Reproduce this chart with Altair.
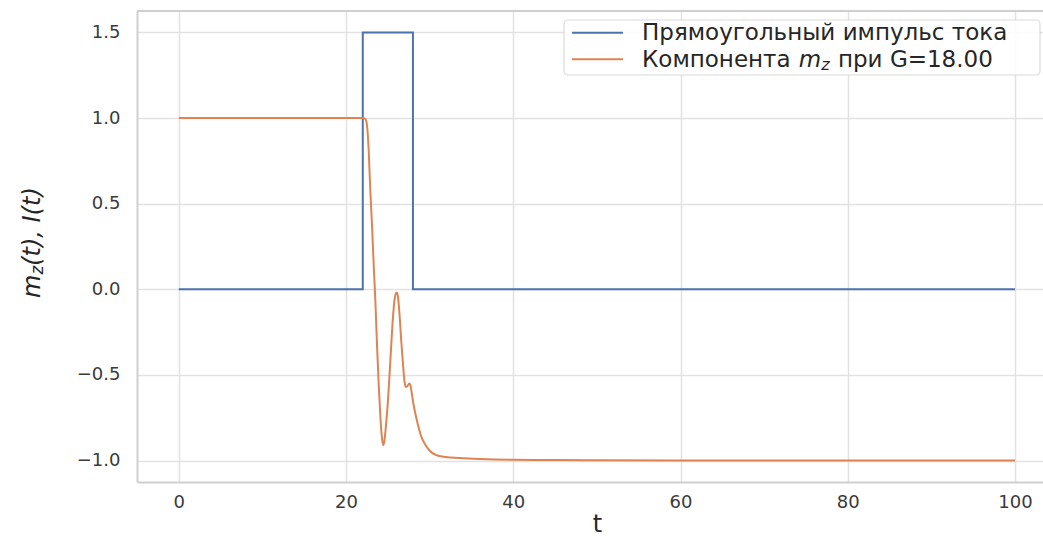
import altair as alt
import pandas as pd

# ---------------- data ----------------
series_names = ["Прямоугольный импульс тока", "Компонента m_z при G=18.00"]
series_colors = ["#4c72b0", "#dd8452"]

t_pulse = [0, 22.0, 22.0, 28.0, 28.0, 100]
i_pulse = [0.0, 0.0, 1.5, 1.5, 0.0, 0.0]

t_mz = [0, 22.0, 22.3, 22.5, 22.7, 22.9, 23.1, 23.3, 23.5, 23.7, 23.9, 24.1,
        24.3, 24.45, 24.6, 24.8, 25.0, 25.2, 25.4, 25.6, 25.8, 26.0, 26.1,
        26.2, 26.4, 26.6, 26.8, 27.0, 27.15, 27.35, 27.55, 27.7, 27.9, 28.1,
        28.4, 28.7, 29.0, 29.4, 29.8, 30.3, 30.8, 31.5, 32.5, 34, 36, 40, 45,
        50, 60, 80, 100]
mz = [1.0, 1.0, 0.995, 0.96, 0.82, 0.58, 0.38, 0.15, -0.06, -0.32, -0.55, -0.74,
      -0.87, -0.91, -0.88, -0.78, -0.66, -0.5, -0.33, -0.17, -0.06, -0.02, -0.02,
      -0.04, -0.15, -0.3, -0.43, -0.54, -0.57, -0.565, -0.55, -0.56, -0.62, -0.68,
      -0.75, -0.81, -0.86, -0.9, -0.93, -0.955, -0.968, -0.976, -0.982, -0.986,
      -0.99, -0.995, -0.997, -0.998, -0.999, -1.0, -1.0]

x_ticks = [0, 20, 40, 60, 80, 100]
y_ticks = [-1.0, -0.5, 0.0, 0.5, 1.0, 1.5]

W, H = 906, 471
PAD_L, PAD_T = 137, 11

df_p = pd.DataFrame({"t": t_pulse, "v": i_pulse, "s": series_names[0]})
df_m = pd.DataFrame({"t": t_mz, "v": mz, "s": series_names[1]})

xs = alt.Scale(domain=[-5, 103.35], nice=False, zero=False)
ys = alt.Scale(domain=[-1.125, 1.625], nice=False, zero=False)
cs = alt.Scale(domain=series_names, range=series_colors)

x_axis = alt.Axis(values=x_ticks, format="d", title="t", titleFontSize=24,
                  titleFontWeight="normal", titleFont="DejaVu Sans",
                  titleColor="#262626", titleX=597 - PAD_L, titleY=49,
                  titleAlign="center", titleBaseline="alphabetic",
                  labelPadding=11)
y_axis = alt.Axis(values=y_ticks, format=".1f", title="", labelPadding=17)

enc_x = alt.X("t:Q", scale=xs, axis=x_axis)
enc_y = alt.Y("v:Q", scale=ys, axis=y_axis)

pulse = alt.Chart(df_p).mark_line(strokeWidth=2, interpolate="linear").encode(
    x=enc_x, y=enc_y, color=alt.Color("s:N", scale=cs, legend=None))
comp = alt.Chart(df_m).mark_line(strokeWidth=2, interpolate="monotone").encode(
    x=alt.X("t:Q", scale=xs), y=alt.Y("v:Q", scale=ys),
    color=alt.Color("s:N", scale=cs, legend=None))

one = alt.Data(values=[{}])
BORDER = "#cfcfcf"

top_border = alt.Chart(one).mark_rule(color=BORDER, strokeWidth=2).encode(
    x=alt.value(0), x2=alt.value(W), y=alt.value(0))

# ---------------- legend (manual, for the italic subscript) ----------------
lx0, lx1, ly0, ly1 = 564 - PAD_L, 1040 - PAD_L, 20 - PAD_T, 75 - PAD_T
legend_box = alt.Chart(one).mark_rect(fill="white", stroke="#d8d8d8", strokeWidth=1.2,
                                      cornerRadius=4, opacity=0.9).encode(
    x=alt.value(lx0), x2=alt.value(lx1), y=alt.value(ly0), y2=alt.value(ly1))
leg_line1 = alt.Chart(one).mark_rule(color=series_colors[0], strokeWidth=2).encode(
    x=alt.value(572 - PAD_L), x2=alt.value(623 - PAD_L), y=alt.value(32.7 - PAD_T))
leg_line2 = alt.Chart(one).mark_rule(color=series_colors[1], strokeWidth=2).encode(
    x=alt.value(572 - PAD_L), x2=alt.value(623 - PAD_L), y=alt.value(59.3 - PAD_T))

LF = 23
tx = 642 - PAD_L
b1 = 40 - PAD_T
b2 = 66.5 - PAD_T
txt_style = dict(font="DejaVu Sans", color="#262626", align="left", baseline="alphabetic")
leg_t1 = alt.Chart(one).mark_text(fontSize=LF, **txt_style).encode(
    x=alt.value(tx), y=alt.value(b1), text=alt.value("Прямоугольный импульс тока"))
w_a = 6.5 * LF + 0.318 * LF
leg_t2a = alt.Chart(one).mark_text(fontSize=LF, **txt_style).encode(
    x=alt.value(tx), y=alt.value(b2), text=alt.value("Компонента"))
leg_t2m = alt.Chart(one).mark_text(fontSize=LF, fontStyle="italic", **txt_style).encode(
    x=alt.value(tx + w_a), y=alt.value(b2), text=alt.value("m"))
w_m = 0.974 * LF
leg_t2z = alt.Chart(one).mark_text(fontSize=LF * 0.7, fontStyle="italic", **txt_style).encode(
    x=alt.value(tx + w_a + w_m), y=alt.value(b2 + 3), text=alt.value("z"))
w_z = 0.525 * LF * 0.7
leg_t2b = alt.Chart(one).mark_text(fontSize=LF, **txt_style).encode(
    x=alt.value(tx + w_a + w_m + w_z + 0.318 * LF + 1), y=alt.value(b2),
    text=alt.value("при G=18.00"))

# ---------------- y title (rotated pieces) ----------------
YF = 24
yb = 40 - PAD_L
ys0 = 298 - PAD_T
rot = dict(font="DejaVu Sans", color="#262626", align="left", baseline="alphabetic", angle=270)
yt_m = alt.Chart(one).mark_text(fontSize=YF, fontStyle="italic", **rot).encode(
    x=alt.value(yb), y=alt.value(ys0), text=alt.value("m"))
yt_z = alt.Chart(one).mark_text(fontSize=YF * 0.7, fontStyle="italic", **rot).encode(
    x=alt.value(yb + 3), y=alt.value(ys0 - 0.974 * YF), text=alt.value("z"))
yt_r = alt.Chart(one).mark_text(fontSize=YF, fontStyle="italic", **rot).encode(
    x=alt.value(yb), y=alt.value(ys0 - 0.974 * YF - 0.525 * YF * 0.7),
    text=alt.value("(t), I(t)"))

chart = alt.layer(
    pulse, comp, top_border,
    legend_box, leg_line1, leg_line2, leg_t1, leg_t2a, leg_t2m, leg_t2z, leg_t2b,
    yt_m, yt_z, yt_r,
).properties(
    width=W, height=H,
    autosize=alt.AutoSizeParams(type="none"),
    padding={"left": PAD_L, "top": PAD_T, "right": 0, "bottom": 536 - PAD_T - H},
    background="white",
).configure_view(
    strokeWidth=0,
).configure_axis(
    grid=True, gridColor="#e2e2e2", gridWidth=1.5,
    ticks=False, domain=True, domainColor=BORDER, domainWidth=2,
    labelFont="DejaVu Sans", labelFontSize=18, labelColor="#3a3a3a",
)

chart.save("out.html", embed_options={"renderer": "svg", "actions": False})
